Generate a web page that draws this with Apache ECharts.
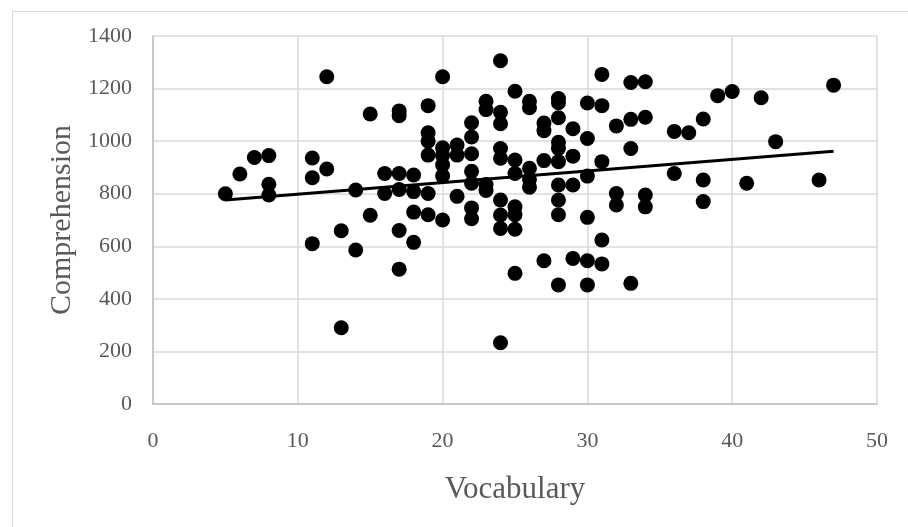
<!DOCTYPE html>
<html>
<head>
<meta charset="utf-8">
<script src="https://cdn.jsdelivr.net/npm/echarts@6/dist/echarts.min.js"></script>
<style>
html,body{
    margin:0;
    padding:0;
    background:#fff;
}
#main{
    width:908px;
    height:527px;
}
</style>
</head>
<body>
<div id="main"></div>
<script>
    // vocabulary score per student
    var vocab = [
        5, 6, 7, 8, 8, 8,
        11, 11, 11, 12, 12, 13, 13, 14, 14, 15, 15, 16, 16,
        17, 17, 17, 17, 17, 17,
        18, 18, 18, 18,
        19, 19, 19, 19, 19, 19,
        20, 20, 20, 20, 20, 20,
        21, 21, 21,
        22, 22, 22, 22, 22, 22, 22,
        23, 23, 23, 23,
        24, 24, 24, 24, 24, 24, 24, 24, 24,
        25, 25, 25, 25, 25, 25, 25,
        26, 26, 26, 26, 26,
        27, 27, 27, 27,
        28, 28, 28, 28, 28, 28, 28, 28, 28, 28,
        29, 29, 29, 29,
        30, 30, 30, 30, 30, 30,
        31, 31, 31, 31, 31,
        32, 32, 32,
        33, 33, 33, 33,
        34, 34, 34, 34,
        36, 36, 37, 38, 38, 38, 39, 40, 41, 42, 43, 46, 47
    ];
    // comprehension score per student (same order)
    var comprehension = [
        800, 875, 938, 945, 836, 795,
        936, 861, 610, 1245, 894, 659, 290, 814, 586, 1103, 718, 877, 801,
        1115, 1097, 877, 816, 660, 513,
        871, 808, 730, 615,
        1135, 1032, 1000, 947, 801, 720,
        1245, 975, 945, 910, 868, 700,
        985, 947, 790,
        1070, 1016, 952, 885, 840, 746, 705,
        1152, 1120, 835, 812,
        1306, 1110, 1066, 972, 935, 776, 719, 668, 233,
        1190, 928, 877, 750, 720, 665, 497,
        1152, 1127, 897, 855, 825,
        1069, 1040, 926, 545,
        1162, 1146, 1089, 996, 972, 922, 833, 776, 720, 453,
        1047, 943, 833, 554,
        1145, 1010, 867, 710, 545, 453,
        1254, 1135, 922, 624, 533,
        1058, 801, 757,
        1223, 1083, 972, 459,
        1226, 1091, 795, 750,
        1037, 877, 1032, 1084, 852, 770, 1173, 1189, 840, 1165, 998, 852, 1213
    ];
    // linear trendline ends as drawn
    var trendX = [5, 47];
    var trendY = [776, 962];

    var xTicks = [0, 10, 20, 30, 40, 50];
    var yTicks = [0, 200, 400, 600, 800, 1000, 1200, 1400];

    var points = [];
    for (var i = 0; i < vocab.length; i++) {
        points.push([vocab[i], comprehension[i]]);
    }
    var trend = [];
    for (var j = 0; j < trendX.length; j++) {
        trend.push([trendX[j], trendY[j]]);
    }

    var chart = echarts.init(document.getElementById('main'), null, {renderer: 'canvas'});
    var font = '"Liberation Serif", "DejaVu Serif", serif';

    var option = {
        animation: false,
        backgroundColor: '#fff',
        graphic: [{
            type: 'rect',
            left: 10,
            top: 9,
            shape: {width: 1000, height: 1000},
            style: {fill: 'none', stroke: '#d9d9d9', lineWidth: 1},
            silent: true
        }],
        grid: {
            left: 153,
            top: 36,
            right: 31,
            bottom: 123
        },
        xAxis: {
            type: 'value',
            min: xTicks[0],
            max: xTicks[xTicks.length - 1],
            interval: 10,
            name: 'Vocabulary',
            nameLocation: 'middle',
            nameGap: 70,
            nameTextStyle: {fontFamily: font, fontSize: 31, color: '#595959'},
            axisLine: {show: true, lineStyle: {color: '#bfbfbf', width: 1.5}},
            axisTick: {show: false},
            axisLabel: {
                fontFamily: font, fontSize: 22, color: '#595959', margin: 26,
                formatter: function (v) { return String(v); }
            },
            splitLine: {show: true, lineStyle: {color: '#d9d9d9', width: 1.5}}
        },
        yAxis: {
            type: 'value',
            min: yTicks[0],
            max: yTicks[yTicks.length - 1],
            interval: 200,
            name: 'Comprehension',
            nameLocation: 'middle',
            nameGap: 76,
            nameTextStyle: {fontFamily: font, fontSize: 30, color: '#595959'},
            axisLine: {show: true, lineStyle: {color: '#bfbfbf', width: 1.5}},
            axisTick: {show: false},
            axisLabel: {
                fontFamily: font, fontSize: 22, color: '#595959', margin: 21,
                formatter: function (v) { return String(v); }
            },
            splitLine: {show: true, lineStyle: {color: '#d9d9d9', width: 1.5}}
        },
        series: [
            {
                type: 'scatter',
                data: points,
                symbol: 'circle',
                symbolSize: 15,
                itemStyle: {color: '#000', opacity: 1}
            },
            {
                type: 'line',
                data: trend,
                symbol: 'none',
                lineStyle: {color: '#000', width: 3},
                z: 3
            }
        ]
    };
    chart.setOption(option);
</script>
</body>
</html>
